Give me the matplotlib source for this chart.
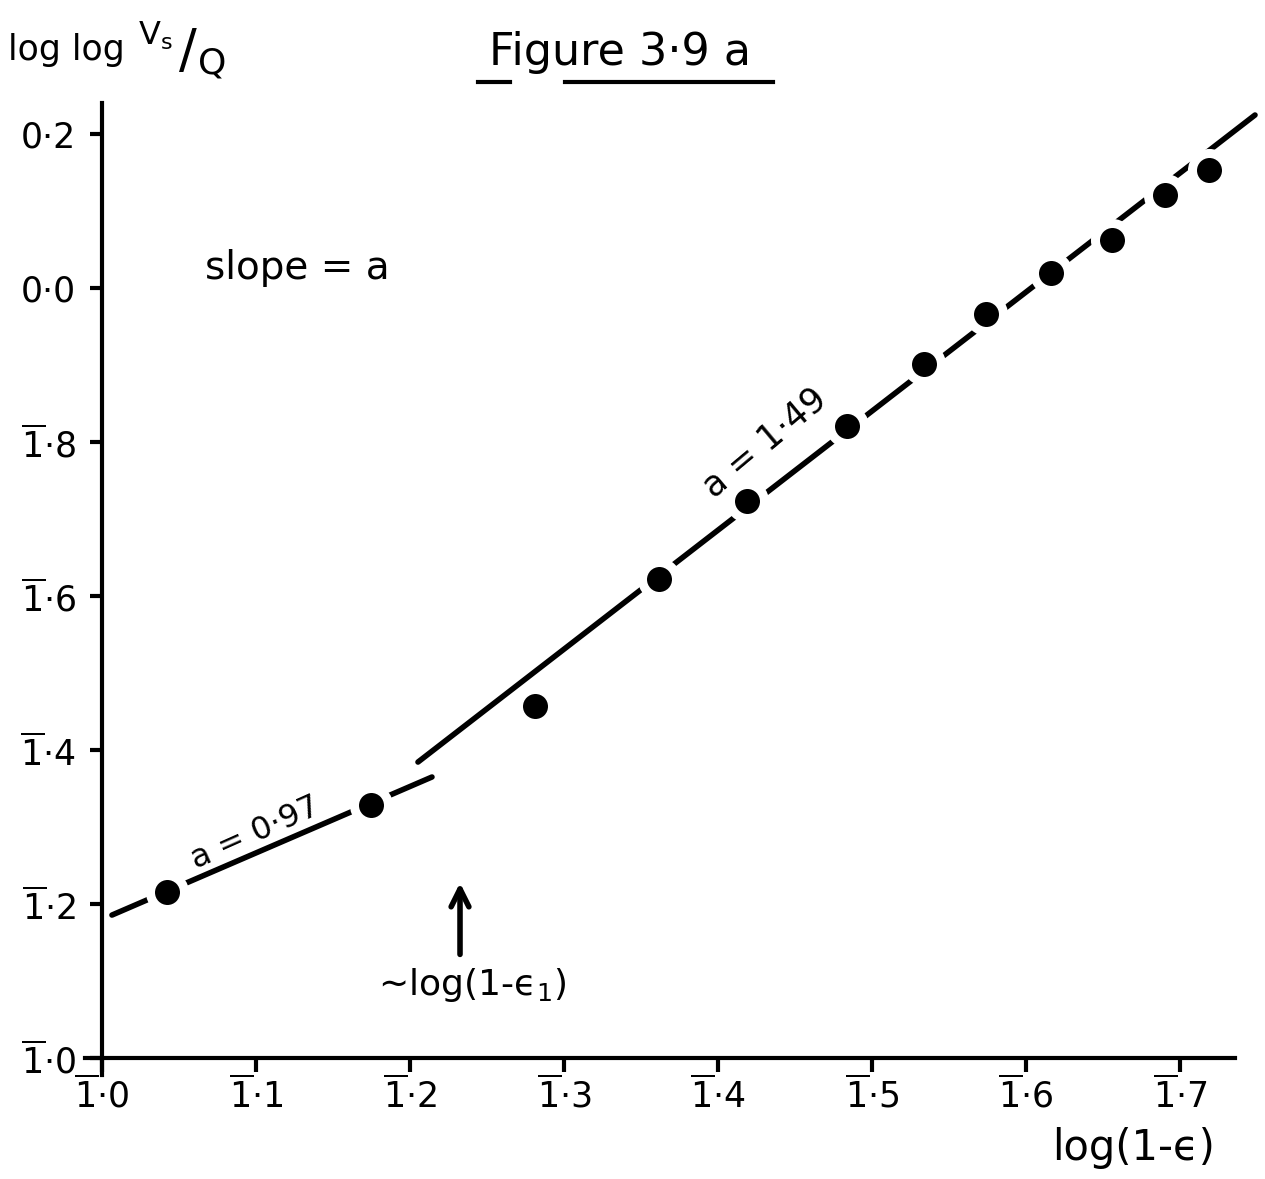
import matplotlib
matplotlib.use('Agg')
import matplotlib.pyplot as plt
from matplotlib.lines import Line2D

plt.rcParams['font.family'] = ['DejaVu Sans']
plt.rcParams['mathtext.fontset'] = 'dejavusans'
plt.rcParams['mathtext.default'] = 'regular'

# measured points: log(1-e) against loglog(Vs/Q)
log_eps = [-0.958, -0.825, -0.719, -0.638, -0.581, -0.516,
           -0.466, -0.426, -0.384, -0.344, -0.310, -0.281]
loglog_vq = [-0.784, -0.671, -0.543, -0.378, -0.277, -0.179,
             -0.099, -0.034, 0.019, 0.062, 0.121, 0.153]

# the two fitted straight lines
fit1_x = [-0.9935, -0.7857]
fit1_y = [-0.8143, -0.635]
fit2_x = [-0.7948, -0.2513]
fit2_y = [-0.6156, 0.2247]

x_ticks = [-1.0, -0.9, -0.8, -0.7, -0.6, -0.5, -0.4, -0.3]
x_labels = [r'$\overline{1}$·0', r'$\overline{1}$·1', r'$\overline{1}$·2', r'$\overline{1}$·3',
            r'$\overline{1}$·4', r'$\overline{1}$·5', r'$\overline{1}$·6', r'$\overline{1}$·7']
y_ticks = [-1.0, -0.8, -0.6, -0.4, -0.2, 0.0, 0.2]
y_labels = [r'$\overline{1}$·0', r'$\overline{1}$·2', r'$\overline{1}$·4', r'$\overline{1}$·6',
            r'$\overline{1}$·8', '0·0', '0·2']

W, H = 1265, 1179


def px(x, y):
    return x / W, 1 - y / H


fig = plt.figure(figsize=(W / 100, H / 100), dpi=100)
ax = fig.add_axes([85 / W, 1 - 1075 / H, 1150 / W, 972 / H])

ax.plot(fit1_x, fit1_y, color='k', lw=4, solid_capstyle='round', zorder=2)
ax.plot(fit2_x, fit2_y, color='k', lw=4, solid_capstyle='round', zorder=2, clip_on=False)
# white halo breaks the lines around each point
ax.plot(log_eps, loglog_vq, 'o', color='white', ms=31, mew=0, zorder=3)
ax.plot(log_eps, loglog_vq, 'o', color='k', ms=18, mew=0, zorder=4)

ax.set_xlim(-1.011, -0.2643)
ax.set_ylim(-1.022, 0.2403)

for side in ['top', 'right']:
    ax.spines[side].set_visible(False)
ax.spines['left'].set_position(('data', -1.0))
ax.spines['bottom'].set_position(('data', -1.0))
ax.spines['left'].set_linewidth(3)
ax.spines['bottom'].set_linewidth(3)

ax.set_xticks(x_ticks)
ax.set_xticklabels(x_labels)
ax.set_yticks(y_ticks)
ax.set_yticklabels(y_labels)
ax.tick_params(axis='x', direction='out', length=10, width=3, labelsize=25, pad=3)
ax.tick_params(axis='y', direction='out', length=9, width=3, labelsize=25, pad=10)

ax.text(-0.933, 0.026, 'slope = a', fontsize=28, ha='left', va='center')
ax.text(-0.5695, -0.2013, 'a = 1·49', fontsize=25, ha='center', va='center',
        rotation=40, rotation_mode='anchor')
ax.text(-0.9006, -0.708, 'a = 0·97', fontsize=23, ha='center', va='center',
        rotation=24, rotation_mode='anchor')

ax.annotate('', xy=(-0.7675, -0.7688), xytext=(-0.7675, -0.869),
            arrowprops=dict(arrowstyle='->', lw=4, color='k', mutation_scale=32))
ax.text(-0.7597, -0.905, r'∼log(1-ϵ$_1$)', fontsize=26, ha='center', va='center')

# title with hand-ruled underline
fig.text(*px(620, 52), 'Figure 3·9 a', fontsize=32, ha='center', va='center')
fig.add_artist(Line2D([478 / W, 510 / W], [1 - 82 / H, 1 - 82 / H], color='k', lw=3))
fig.add_artist(Line2D([565 / W, 773 / W], [1 - 82 / H, 1 - 82 / H], color='k', lw=3))

# y-axis label: log log Vs/Q written as a slanted fraction
fig.text(*px(8, 50), 'log log', fontsize=25, ha='left', va='center')
fig.text(*px(138, 36), r'$V_s$', fontsize=23, ha='left', va='center')
fig.text(*px(188, 52), '/', fontsize=38, ha='center', va='center')
fig.text(*px(198, 64), 'Q', fontsize=26, ha='left', va='center')
fig.text(*px(1215, 1148), 'log(1-ϵ)', fontsize=30, ha='right', va='center')

fig.savefig('out.png', dpi=100, facecolor='white')
